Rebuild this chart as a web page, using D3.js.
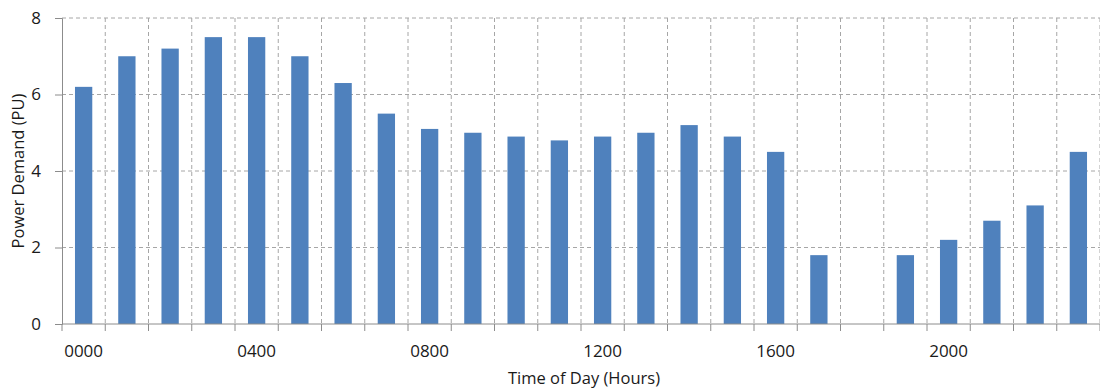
<!DOCTYPE html>
<html>
<head>
<meta charset="utf-8">
<script src="https://cdn.jsdelivr.net/npm/d3@7"></script>
<style>
  html, body { margin: 0; padding: 0; background: #ffffff; }
  svg { display: block; }
  text { font-family: "Open Sans", "Liberation Sans", sans-serif; fill: #1a1a1a; }
</style>
</head>
<body>
<svg id="chart" width="1100" height="389"></svg>
<script>
const categories = ["0000","0100","0200","0300","0400","0500","0600","0700","0800","0900","1000","1100",
                    "1200","1300","1400","1500","1600","1700","1800","1900","2000","2100","2200","2300"];
const demand = [6.2, 7.0, 7.2, 7.5, 7.5, 7.0, 6.3, 5.5, 5.1, 5.0, 4.9, 4.8,
                4.9, 5.0, 5.2, 4.9, 4.5, 1.8, 0, 1.8, 2.2, 2.7, 3.1, 4.5];
const yTicks = [0, 2, 4, 6, 8];
const xLabels = ["0000", "0400", "0800", "1200", "1600", "2000"];
const xTitle = "Time of Day (Hours)";
const yTitle = "Power Demand (PU)";

(function () {
const svg = d3.select("#chart");
const mLeft = 62, mRight = 1100, mTop = 18, mBottom = 324;

const x = d3.scaleBand().domain(categories).range([mLeft, mRight]).paddingInner(0.6).paddingOuter(0.3);
const y = d3.scaleLinear().domain([0, 8]).range([mBottom, mTop]);
const step = x.step();
const boundary = i => mLeft + i * step;

const gridColor = "#a6a6a6";
const axisColor = "#8c8c8c";

// horizontal gridlines
svg.append("g").selectAll("line").data(yTicks.filter(d => d > 0)).join("line")
  .attr("x1", mLeft).attr("x2", mRight)
  .attr("y1", d => y(d)).attr("y2", d => y(d))
  .attr("stroke", gridColor).attr("stroke-width", 1).attr("stroke-dasharray", "4,3");

// vertical gridlines at category boundaries
svg.append("g").selectAll("line").data(d3.range(1, categories.length + 1)).join("line")
  .attr("x1", i => boundary(i)).attr("x2", i => boundary(i))
  .attr("y1", mTop).attr("y2", mBottom)
  .attr("stroke", gridColor).attr("stroke-width", 1).attr("stroke-dasharray", "4,3");

// bars
svg.append("g").selectAll("rect").data(categories.map((c, i) => ({c, v: demand[i]}))).join("rect")
  .attr("x", d => x(d.c)).attr("width", x.bandwidth())
  .attr("y", d => y(d.v)).attr("height", d => y(0) - y(d.v))
  .attr("fill", "#4f81bd");

// y axis
const yAxis = svg.append("g").attr("transform", `translate(${mLeft},0)`)
  .call(d3.axisLeft(y).tickValues(yTicks).tickSize(7).tickPadding(14).tickFormat(d3.format("d")));
yAxis.select(".domain").attr("stroke", axisColor);
yAxis.selectAll(".tick line").attr("stroke", axisColor);
yAxis.selectAll(".tick text").style("font-size", "17px").attr("fill", "#1a1a1a")
  .style("font-family", "'Open Sans', sans-serif");

// x axis line
svg.append("line").attr("x1", mLeft).attr("x2", mRight).attr("y1", mBottom).attr("y2", mBottom)
  .attr("stroke", axisColor).attr("stroke-width", 1);

// x tick marks at category boundaries
svg.append("g").selectAll("line").data(d3.range(0, categories.length + 1)).join("line")
  .attr("x1", i => boundary(i)).attr("x2", i => boundary(i))
  .attr("y1", mBottom).attr("y2", mBottom + 7)
  .attr("stroke", axisColor).attr("stroke-width", 1);

// x labels
svg.append("g").selectAll("text").data(xLabels).join("text")
  .attr("x", d => x(d) + x.bandwidth() / 2).attr("y", 357)
  .attr("text-anchor", "middle").style("font-size", "17px").text(d => d);

// axis titles
svg.append("text").attr("x", (mLeft + mRight) / 2 + 3).attr("y", 384)
  .attr("text-anchor", "middle").style("font-size", "16.5px").text(xTitle);
svg.append("text").attr("transform", `translate(24,${(mTop + mBottom) / 2}) rotate(-90)`)
  .attr("text-anchor", "middle").style("font-size", "16.5px").text(yTitle);
})();
</script>
</body>
</html>
